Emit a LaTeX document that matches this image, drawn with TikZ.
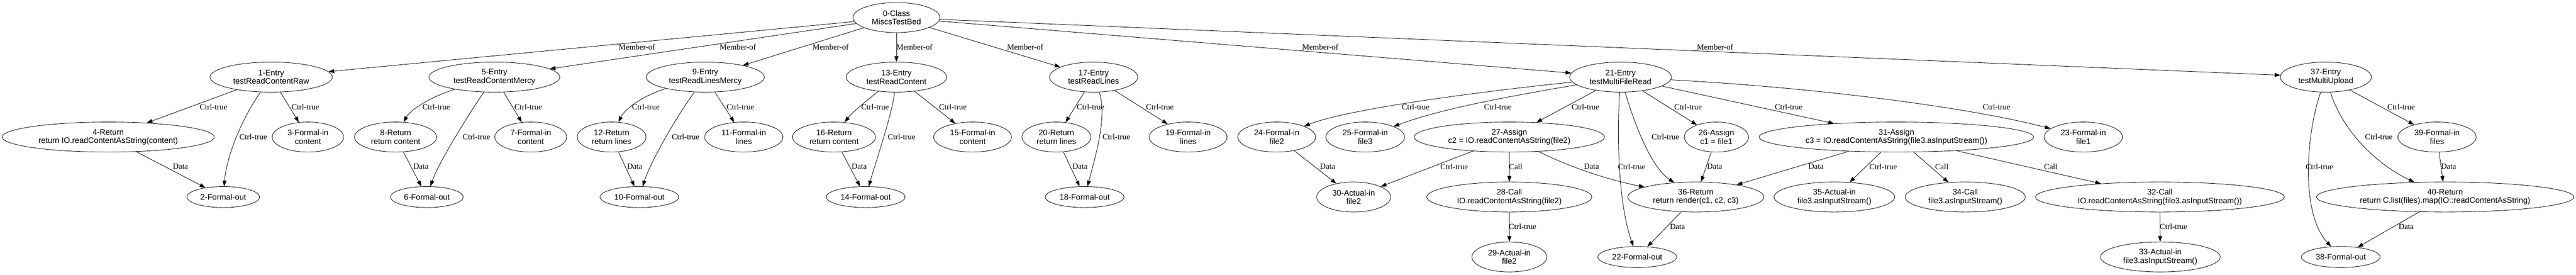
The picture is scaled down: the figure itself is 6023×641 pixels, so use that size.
\documentclass[tikz,border=0pt]{standalone}
\usepackage{fontspec}
\setmainfont{Liberation Sans}
\newfontfamily\pdglabelfont{Liberation Serif}
\usepackage{tikz}
\usetikzlibrary{positioning, shapes.geometric, arrows.meta}

\begin{document}
\begin{tikzpicture}[x=0.75pt, y=-0.75pt,
    pdgnode/.style={ellipse, draw, line width=0.75pt, inner sep=0pt, align=center, minimum width=#1, minimum height=52.5pt, font=\fontsize{14}{15}\selectfont},
    pdgout/.style={pdgnode=#1, minimum height=36.75pt},
    pdgedge/.style={line width=0.75pt, -{Triangle[length=10pt, width=7pt]}},
    pdglabel/.style={font=\pdglabelfont\fontsize{14}{15}\selectfont, inner sep=0pt}]
    \useasboundingbox (0,0) rectangle (6023,641);
    \node[pdgnode=152.25pt] (n0) at (2096,41) {0-Class\\MiscsTestBed};
    \node[pdgnode=214.5pt] (n1) at (634,180) {1-Entry\\testReadContentRaw};
    \node[pdgout=127.5pt] (n2) at (522,460) {2-Formal-out};
    \node[pdgnode=125.25pt] (n3) at (720,320) {3-Formal-in\\content};
    \node[pdgnode=372pt] (n4) at (253,320) {4-Return\\return IO.readContentAsString(content)};
    \node[pdgnode=229.5pt] (n5) at (1156,180) {5-Entry\\testReadContentMercy};
    \node[pdgout=127.5pt] (n6) at (998,460) {6-Formal-out};
    \node[pdgnode=126pt] (n7) at (1241,320) {7-Formal-in\\content};
    \node[pdgnode=144pt] (n8) at (925,320) {8-Return\\return content};
    \node[pdgnode=207pt] (n9) at (1649,180) {9-Entry\\testReadLinesMercy};
    \node[pdgout=138pt] (n10) at (1495,460) {10-Formal-out};
    \node[pdgnode=137.25pt] (n11) at (1739,320) {11-Formal-in\\lines};
    \node[pdgnode=120.75pt] (n12) at (1430,320) {12-Return\\return lines};
    \node[pdgnode=176.25pt] (n13) at (2096,180) {13-Entry\\testReadContent};
    \node[pdgout=138pt] (n14) at (2024,460) {14-Formal-out};
    \node[pdgnode=136.5pt] (n15) at (2274,320) {15-Formal-in\\content};
    \node[pdgnode=145.5pt] (n16) at (1950,320) {16-Return\\return content};
    \node[pdgnode=154.5pt] (n17) at (2557,180) {17-Entry\\testReadLines};
    \node[pdgout=138pt] (n18) at (2536,460) {18-Formal-out};
    \node[pdgnode=136.5pt] (n19) at (2778,320) {19-Formal-in\\lines};
    \node[pdgnode=120.75pt] (n20) at (2470,320) {20-Return\\return lines};
    \node[pdgnode=178.5pt] (n21) at (3789,180) {21-Entry\\testMultiFileRead};
    \node[pdgout=138pt] (n22) at (3828,600) {22-Formal-out};
    \node[pdgnode=137.25pt] (n23) at (4871,320) {23-Formal-in\\file1};
    \node[pdgnode=136.5pt] (n24) at (2985,320) {24-Formal-in\\file2};
    \node[pdgnode=138pt] (n25) at (3192,320) {25-Formal-in\\file3};
    \node[pdgnode=112.5pt] (n26) at (4013,320) {26-Assign\\c1 = file1};
    \node[pdgnode=333.75pt] (n27) at (3529,320) {27-Assign\\c2 = IO.readContentAsString(file2)};
    \node[pdgnode=289.5pt] (n28) at (3529,460) {28-Call\\IO.readContentAsString(file2)};
    \node[pdgnode=131.25pt] (n29) at (3529,600) {29-Actual-in\\file2};
    \node[pdgnode=129.75pt] (n30) at (3165,460) {30-Actual-in\\file2};
    \node[pdgnode=481.5pt] (n31) at (4434,320) {31-Assign\\c3 = IO.readContentAsString(file3.asInputStream())};
    \node[pdgnode=436.5pt] (n32) at (5050,460) {32-Call\\IO.readContentAsString(file3.asInputStream())};
    \node[pdgnode=210pt] (n33) at (5051,600) {33-Actual-in\\file3.asInputStream()};
    \node[pdgnode=210.75pt] (n34) at (4595,460) {34-Call\\file3.asInputStream()};
    \node[pdgnode=211.5pt] (n35) at (4289,460) {35-Actual-in\\file3.asInputStream()};
    \node[pdgnode=238.5pt] (n36) at (3965,460) {36-Return\\return render(c1, c2, c3)};
    \node[pdgnode=159.75pt] (n37) at (5438,180) {37-Entry\\testMultiUpload};
    \node[pdgout=138pt] (n38) at (5473,600) {38-Formal-out};
    \node[pdgnode=137.25pt] (n39) at (5698,320) {39-Formal-in\\files};
    \node[pdgnode=451.5pt] (n40) at (5717,460) {40-Return\\return C.list(files).map(IO::readContentAsString)};
    \foreach \a/\b/\t/\lx/\ly in {n0/n1/Member-of/1489/110, n0/n5/Member-of/1725/110, n0/n9/Member-of/1942/110,
        n0/n13/Member-of/2138/110, n0/n17/Member-of/2397/110, n0/n21/Member-of/3087/110, n0/n37/Member-of/4010/110,
        n1/n4/Ctrl-true/499/249, n1/n3/Ctrl-true/714/249, n4/n2/Data/422/389, n5/n7/Ctrl-true/1235/249,
        n8/n6/Data/984/389, n9/n11/Ctrl-true/1731/249, n12/n10/Data/1484/389, n13/n15/Ctrl-true/2228/249,
        n16/n14/Data/2009/389, n17/n20/Ctrl-true/2550/249, n17/n19/Ctrl-true/2712/249, n20/n18/Data/2525/389,
        n21/n26/Ctrl-true/3947/249, n21/n27/Ctrl-true/3707/249, n21/n31/Ctrl-true/4182/249, n24/n30/Data/3104/389,
        n27/n30/Ctrl-true/3400/389, n27/n28/Call/3544/389, n28/n29/Ctrl-true/3560/529, n26/n36/Data/4009/389,
        n31/n36/Data/4246/389, n31/n35/Ctrl-true/4403/389, n31/n34/Call/4540/389, n31/n32/Call/4795/389,
        n32/n33/Ctrl-true/5082/529, n36/n22/Data/3922/529, n37/n39/Ctrl-true/5614/249, n39/n40/Data/5725/389,
        n40/n38/Data/5626/529}
    {
    \draw[pdgedge] (\a) -- (\b) node[pdglabel] (l\a\b) at (\lx,\ly) {\t};
    }
    \draw[pdgedge] (n1) .. controls (570,270) and (530,360) .. (n2) node[pdglabel] (ln1n2) at (592,319) {Ctrl-true};
    \draw[pdgedge] (n5) .. controls (1010,225) and (960,255) .. (n8) node[pdglabel] (ln5n8) at (1020,249) {Ctrl-true};
    \draw[pdgedge] (n5) .. controls (1100,260) and (1025,380) .. (n6) node[pdglabel] (ln5n6) at (1114,319) {Ctrl-true};
    \draw[pdgedge] (n9) .. controls (1505,222) and (1460,255) .. (n12) node[pdglabel] (ln9n12) at (1510,249) {Ctrl-true};
    \draw[pdgedge] (n9) .. controls (1580,275) and (1520,380) .. (n10) node[pdglabel] (ln9n10) at (1603,319) {Ctrl-true};
    \draw[pdgedge] (n13) .. controls (2020,240) and (1990,265) .. (n16) node[pdglabel] (ln13n16) at (2046,249) {Ctrl-true};
    \draw[pdgedge] (n13) .. controls (2085,270) and (2050,370) .. (n14) node[pdglabel] (ln13n14) at (2108,319) {Ctrl-true};
    \draw[pdgedge] (n17) .. controls (2590,270) and (2560,370) .. (n18) node[pdglabel] (ln17n18) at (2610,319) {Ctrl-true};
    \draw[pdgedge] (n21) .. controls (3450,215) and (3150,255) .. (n24) node[pdglabel] (ln21n24) at (3310,249) {Ctrl-true};
    \draw[pdgedge] (n21) .. controls (3560,220) and (3380,250) .. (n25) node[pdglabel] (ln21n25) at (3502,249) {Ctrl-true};
    \draw[pdgedge] (n21) .. controls (3780,330) and (3785,480) .. (n22) node[pdglabel] (ln21n22) at (3815,389) {Ctrl-true};
    \draw[pdgedge] (n21) .. controls (3822,290) and (3860,390) .. (n36) node[pdglabel] (ln21n36) at (3894,319) {Ctrl-true};
    \draw[pdgedge] (n21) .. controls (4250,205) and (4600,250) .. (n23) node[pdglabel] (ln21n23) at (4668,249) {Ctrl-true};
    \draw[pdgedge] (n27) .. controls (3670,390) and (3760,420) .. (n36) node[pdglabel] (ln27n36) at (3721,389) {Data};
    \draw[pdgedge] (n37) .. controls (5390,320) and (5380,500) .. (n38) node[pdglabel] (ln37n38) at (5423,389) {Ctrl-true};
    \draw[pdgedge] (n37) .. controls (5475,300) and (5550,380) .. (n40) node[pdglabel] (ln37n40) at (5562,319) {Ctrl-true};
\end{tikzpicture}
\end{document}
